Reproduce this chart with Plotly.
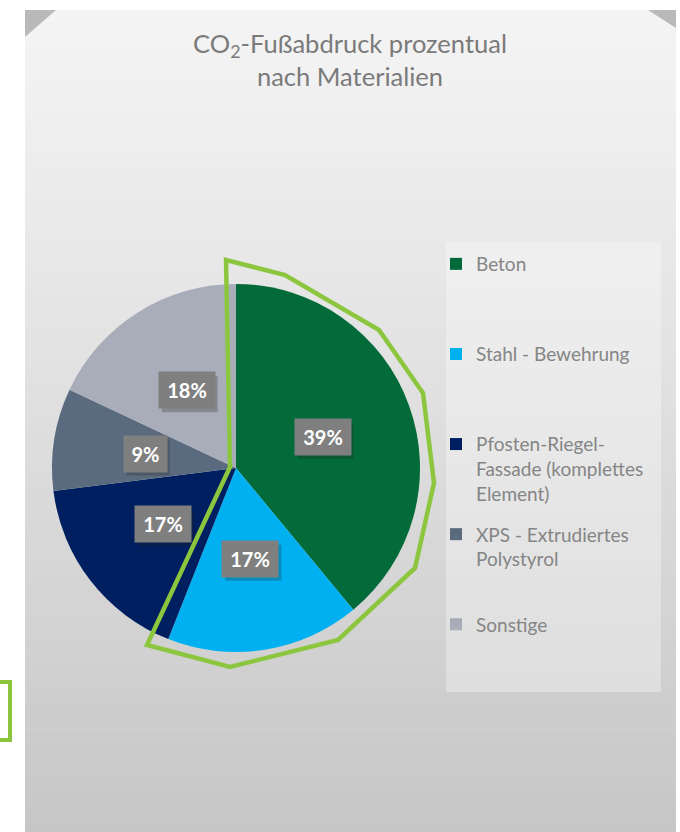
import math
import plotly.graph_objects as go

# ---------------- data ----------------
categories = ["Beton", "Stahl - Bewehrung",
              "Pfosten-Riegel-<br>Fassade (komplettes<br>Element)",
              "XPS - Extrudiertes<br>Polystyrol", "Sonstige"]
values = [39, 17, 17, 9, 18]
colors = ["#026b39", "#00b0f0", "#001f60", "#5b6b7f", "#a9adb9"]
title_text = "CO<sub>2</sub>-Fußabdruck prozentual<br>nach Materialien"

# ---------------- geometry (pixels) ----------------
W, H = 680, 832
CX, CY, R = 236, 468, 184


def px(x):
    return x / W


def py(y):
    return 1 - y / H


fig = go.Figure()
fig.add_trace(go.Pie(
    labels=[c.replace("<br>", " ") for c in categories],
    values=values,
    sort=False,
    direction="clockwise",
    rotation=0,
    marker=dict(colors=colors, line=dict(width=0)),
    textinfo="none",
    hoverinfo="label+percent",
    domain=dict(x=[px(CX - R), px(CX + R)], y=[py(CY + R), py(CY - R)]),
    showlegend=False,
))

# legend entries (one per slice, padded to equal line counts)
max_lines = 3
for c, col in zip(categories, colors):
    n = c.count("<br>") + 1
    fig.add_trace(go.Scatter(
        x=[None], y=[None], mode="markers",
        marker=dict(symbol="square", size=12, color=col, line=dict(width=0)),
        name=c + "<br>&nbsp;" * (max_lines - n),
        legendgroup=c, showlegend=True, hoverinfo="skip",
    ))

shapes = []
# panel background gradient (vertical bands)
top, bot = 10, 832
nb = 64
c_top, c_bot = 244, 198
for i in range(nb):
    y0 = top + (bot - top) * i / nb
    y1 = top + (bot - top) * (i + 1) / nb + 0.5
    t = (i + 0.5) / nb
    c = round(c_top + (c_bot - c_top) * t ** 1.1)
    shapes.append(dict(type="rect", xref="paper", yref="paper",
                       x0=px(25), x1=px(676), y0=py(y0), y1=py(y1),
                       fillcolor=f"rgb({c},{c},{c})", line=dict(width=0),
                       layer="below"))
# folded corners
shapes.append(dict(type="path", xref="paper", yref="paper",
                   path=f"M{px(25)},{py(10)} L{px(56)},{py(10)} L{px(25)},{py(37)} Z",
                   fillcolor="#b9b9b9", line=dict(width=0), layer="below"))
shapes.append(dict(type="path", xref="paper", yref="paper",
                   path=f"M{px(648)},{py(10)} L{px(676)},{py(10)} L{px(676)},{py(28)} Z",
                   fillcolor="#b9b9b9", line=dict(width=0), layer="below"))
# legend box
shapes.append(dict(type="rect", xref="paper", yref="paper",
                   x0=px(446), x1=px(661), y0=py(692), y1=py(242),
                   fillcolor="rgba(255,255,255,0.32)", line=dict(width=0),
                   layer="below"))

# percentage labels
annotations = []
total = sum(values)
cum = 0
BH = 36
for v in values:
    mid = (cum + v / 2) / total * 2 * math.pi
    cum += v
    lx = CX + 0.5 * R * math.sin(mid)
    ly = CY - 0.5 * R * math.cos(mid)
    txt = f"{v}%"
    wbox = 13 * len(txt) + 17
    # drop shadow
    shapes.append(dict(type="rect", xref="paper", yref="paper",
                       x0=px(lx - wbox / 2 + 3), x1=px(lx + wbox / 2 + 3),
                       y0=py(ly + BH / 2 + 4), y1=py(ly - BH / 2 + 4),
                       fillcolor="rgba(30,30,30,0.25)", line=dict(width=0),
                       layer="above"))
    annotations.append(dict(x=px(lx), y=py(ly), xref="paper", yref="paper",
                            xanchor="center", yanchor="middle",
                            text=f"<b>{txt}</b>", showarrow=False, width=wbox, height=BH,
                            bgcolor="#7f7f7f", borderpad=0,
                            font=dict(family="Lato", size=20, color="white")))

# green highlight outline
outline = [(226, 260), (285, 275), (379, 330), (423, 393), (434, 483),
           (415, 568), (338, 640), (230, 667), (147, 645), (230, 467)]
path = "M" + " L".join(f"{px(x)},{py(y)}" for x, y in outline) + " Z"
shapes.append(dict(type="path", xref="paper", yref="paper", path=path,
                   line=dict(color="#8cc63f", width=4.5), fillcolor="rgba(0,0,0,0)",
                   layer="above"))
# green bracket bottom-left
shapes.append(dict(type="path", xref="paper", yref="paper",
                   path=f"M{px(0)},{py(682)} L{px(10)},{py(682)} L{px(10)},{py(740)} L{px(0)},{py(740)}",
                   line=dict(color="#8cc63f", width=4), fillcolor="rgba(0,0,0,0)",
                   layer="above"))

fig.update_layout(
    width=W, height=H,
    margin=dict(l=0, r=0, t=0, b=0),
    paper_bgcolor="white",
    plot_bgcolor="rgba(0,0,0,0)",
    xaxis=dict(visible=False),
    yaxis=dict(visible=False),
    title=dict(text=title_text, x=px(350), xanchor="center", y=py(53), yanchor="top",
               font=dict(family="Lato", size=25.5, color="#7a7a7a")),
    legend=dict(x=px(436), y=py(245), xanchor="left", yanchor="top",
                bgcolor="rgba(0,0,0,0)", valign="top", tracegroupgap=13,
                font=dict(family="Lato", size=19, color="#858585")),
    shapes=shapes,
    annotations=annotations,
)

fig.write_html("out.html", config={"displayModeBar": False},
               post_script="document.body.style.margin='0';")
